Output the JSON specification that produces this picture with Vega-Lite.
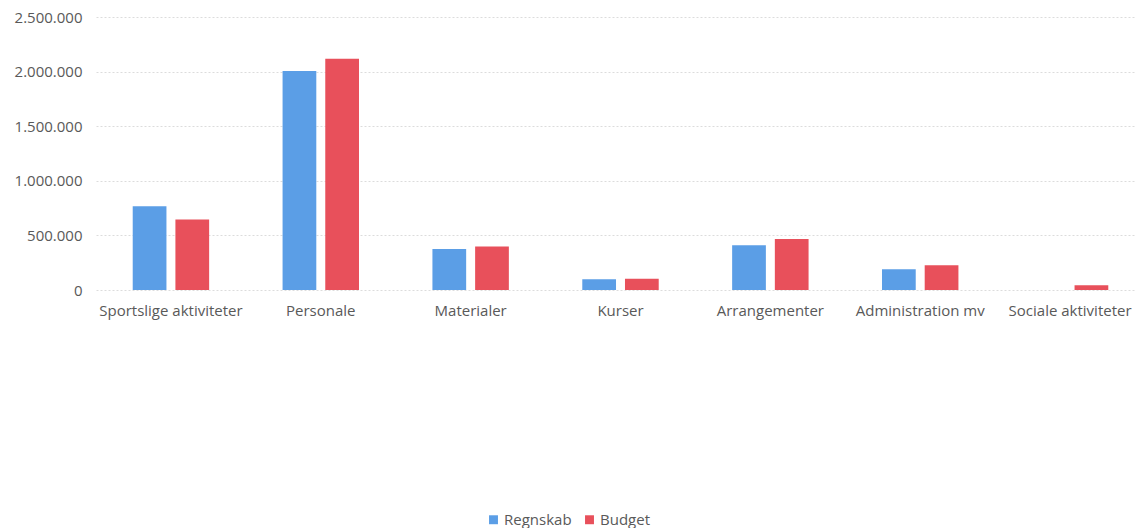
{
  "$schema": "https://vega.github.io/schema/vega-lite/v6.json",
  "width": 1039,
  "height": 273,
  "autosize": {"type": "none"},
  "padding": {"left": 96, "top": 17, "right": 0, "bottom": 238},
  "background": "white",
  "config": {
    "locale": {"number": {"decimal": ",", "thousands": ".", "grouping": [3], "currency": ["", " kr."]}},
    "view": {"stroke": null},
    "font": "Open Sans"
  },
  "data": {
    "values": [
      {"kategori": "Sportslige aktiviteter", "serie": "Regnskab", "beloeb": 768000},
      {"kategori": "Sportslige aktiviteter", "serie": "Budget", "beloeb": 646000},
      {"kategori": "Personale", "serie": "Regnskab", "beloeb": 2005000},
      {"kategori": "Personale", "serie": "Budget", "beloeb": 2118000},
      {"kategori": "Materialer", "serie": "Regnskab", "beloeb": 375000},
      {"kategori": "Materialer", "serie": "Budget", "beloeb": 399000},
      {"kategori": "Kurser", "serie": "Regnskab", "beloeb": 98000},
      {"kategori": "Kurser", "serie": "Budget", "beloeb": 104000},
      {"kategori": "Arrangementer", "serie": "Regnskab", "beloeb": 409000},
      {"kategori": "Arrangementer", "serie": "Budget", "beloeb": 466000},
      {"kategori": "Administration mv", "serie": "Regnskab", "beloeb": 189000},
      {"kategori": "Administration mv", "serie": "Budget", "beloeb": 226000},
      {"kategori": "Sociale aktiviteter", "serie": "Regnskab", "beloeb": 0},
      {"kategori": "Sociale aktiviteter", "serie": "Budget", "beloeb": 43000}
    ]
  },
  "mark": {"type": "bar"},
  "encoding": {
    "x": {
      "field": "kategori",
      "type": "nominal",
      "sort": null,
      "scale": {"paddingInner": 0.49, "paddingOuter": 0.245, "range": [0, 1049]},
      "axis": {
        "title": null,
        "labelAngle": 0,
        "domain": false,
        "ticks": false,
        "labelPadding": 13,
        "labelFontSize": 15,
        "labelColor": "#595959",
        "labelFont": "Open Sans"
      }
    },
    "xOffset": {
      "field": "serie",
      "type": "nominal",
      "sort": ["Regnskab", "Budget"],
      "scale": {"paddingInner": 0.21, "paddingOuter": 0}
    },
    "y": {
      "field": "beloeb",
      "type": "quantitative",
      "scale": {"domain": [0, 2500000], "nice": false},
      "axis": {
        "title": null,
        "values": [0, 500000, 1000000, 1500000, 2000000, 2500000],
        "format": ",d",
        "domain": false,
        "ticks": false,
        "labelPadding": 14,
        "labelFontSize": 15,
        "labelColor": "#595959",
        "labelFont": "Open Sans",
        "gridColor": "#dcdcdc",
        "gridDash": [2, 2]
      }
    },
    "color": {
      "field": "serie",
      "type": "nominal",
      "sort": ["Regnskab", "Budget"],
      "scale": {"domain": ["Regnskab", "Budget"], "range": ["#5b9ee6", "#e8505b"]},
      "legend": {
        "title": null,
        "orient": "none",
        "direction": "horizontal",
        "legendX": 390,
        "legendY": 495,
        "symbolType": "square",
        "symbolSize": 80,
        "symbolStrokeWidth": 0,
        "labelFontSize": 15,
        "labelColor": "#595959",
        "labelFont": "Open Sans",
        "columnPadding": 10,
        "labelOffset": 3
      }
    }
  }
}
